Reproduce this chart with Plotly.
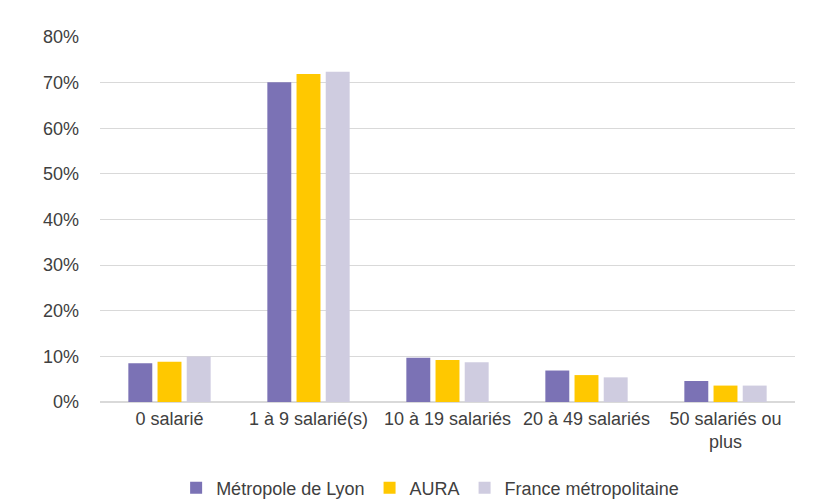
import plotly.graph_objects as go

categories = ["0 salarié", "1 à 9 salarié(s)", "10 à 19 salariés", "20 à 49 salariés", "50 salariés ou<br>plus"]
lyon = [8.5, 70.1, 9.7, 6.9, 4.6]
aura = [8.8, 71.9, 9.2, 5.9, 3.6]
france = [10.0, 72.4, 8.7, 5.4, 3.6]
series_names = ["Métropole de Lyon", "AURA", "France métropolitaine"]
colors = ["#7B72B5", "#FFC800", "#CFCCE0"]
y_ticks = [0, 10, 20, 30, 40, 50, 60, 70, 80]
y_tick_labels = [f"{v}%" for v in y_ticks]

fig = go.Figure()
for name, vals, col in zip(series_names, [lyon, aura, france], colors):
    fig.add_trace(go.Bar(x=categories, y=vals, name=name, marker_color=col,
                         marker_line_width=0))

font_family = "Liberation Sans, Arial, Helvetica, sans-serif"
text_color = "#404040"

# page body has an 8px default margin, so the figure is sized to fit inside it
fig.update_layout(
    width=806, height=494,
    margin=dict(l=92, r=19, t=29, b=100, autoexpand=False),
    paper_bgcolor="white", plot_bgcolor="white",
    barmode="group", bargap=0.37, bargroupgap=0.18,
    font=dict(family=font_family, size=18, color=text_color),
    legend=dict(orientation="h", x=0.475, xanchor="center", y=-0.2356, yanchor="middle",
                font=dict(size=18, color=text_color), itemwidth=30, traceorder="normal",
                tracegroupgap=0),
    xaxis=dict(showgrid=False, showline=False, ticks="", tickangle=0,
               ticklabelstandoff=4, tickfont=dict(size=18, color=text_color)),
    yaxis=dict(range=[0, 80], tickvals=y_ticks, ticktext=y_tick_labels,
               showgrid=True, gridcolor="#D9D9D9", gridwidth=1, zeroline=True,
               zerolinecolor="#D9D9D9", showline=False, ticks="",
               ticklabelstandoff=20, tickfont=dict(size=18, color=text_color)),
)

fig.write_html("out.html")
